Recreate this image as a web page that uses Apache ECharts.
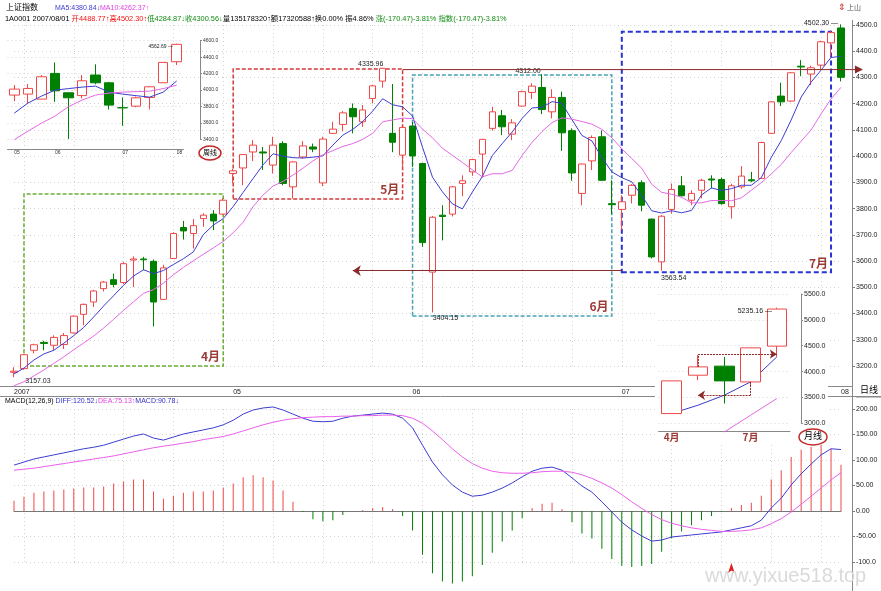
<!DOCTYPE html>
<html>
<head>
<meta charset="utf-8">
<script src="https://cdn.jsdelivr.net/npm/echarts/dist/echarts.min.js"></script>
<style>html,body{margin:0;padding:0;background:#fff}#chart{width:881px;height:591px}</style>
</head>
<body>
<div id="chart"></div>
<script>
// 日线 2007/03/30 - 2007/08/01
const dates = ['03/30', '04/02', '04/03', '04/04', '04/05', '04/06', '04/09', '04/10', '04/11', '04/12', '04/13', '04/16', '04/17', '04/18', '04/19', '04/20', '04/23', '04/24', '04/25', '04/26', '04/27', '04/30',
    '05/08', '05/09', '05/10', '05/11', '05/14', '05/15', '05/16', '05/17', '05/18', '05/21', '05/22', '05/23', '05/24', '05/25', '05/28', '05/29', '05/30', '05/31',
    '06/01', '06/04', '06/05', '06/06', '06/07', '06/08', '06/11', '06/12', '06/13', '06/14', '06/15', '06/18', '06/19', '06/20', '06/21', '06/22', '06/25', '06/26', '06/27', '06/28', '06/29',
    '07/02', '07/03', '07/04', '07/05', '07/06', '07/09', '07/10', '07/11', '07/12', '07/13', '07/16', '07/17', '07/18', '07/19', '07/20', '07/23', '07/24', '07/25', '07/26', '07/27', '07/30', '07/31',
    '08/01']
const dateTicks = { '03/30': '2007', '05/08': '05', '06/01': '06', '07/02': '07', '08/01': '08' }

const opens = [3176, 3190, 3260, 3290, 3279, 3282, 3326, 3397, 3444, 3495, 3529, 3518, 3604, 3608, 3599, 3454, 3610, 3728, 3705, 3762, 3779, 3779,
    3934, 3955, 4016, 4016, 3966, 4048, 3883, 3997, 4035, 3898, 4087, 4121, 4182, 4131, 4220, 4286, 4087, 4004,
    4115, 3972, 3558, 3775, 3779, 3896, 3940, 4008, 4106, 4154, 4084, 4191, 4243, 4262, 4169, 4224, 4097, 3858, 3982, 4074, 3819,
    3797, 3851, 3899, 3760, 3597, 3797, 3887, 3832, 3870, 3913, 3911, 3807, 3883, 3910, 3915, 4087, 4229, 4210, 4343, 4313, 4347, 4432,
    4488.77]
const closes = [3180, 3243, 3281, 3286, 3309, 3316, 3390, 3435, 3486, 3520, 3511, 3590, 3608, 3605, 3444, 3574, 3705, 3715, 3735, 3775, 3753, 3832,
    3944, 4006, 4042, 4012, 4042, 3896, 3978, 4039, 4027, 4065, 4103, 4165, 4150, 4176, 4268, 4334.92, 4053.09, 4109.65,
    4000.74, 3670.40, 3767.10, 3770, 3883, 3906, 3987, 4064, 4169, 4112, 4127, 4246, 4267, 4178, 4224, 4089, 3936, 3970, 4071, 3908, 3815,
    3826, 3889, 3813, 3615.87, 3771, 3873, 3849, 3858, 3908, 3909, 3819, 3887, 3924, 3906, 4052, 4207, 4207, 4318, 4340, 4337, 4436, 4471.03,
    4300.56]
const lows = [3157.03, 3186, 3248, 3260, 3260, 3265, 3324, 3355, 3425, 3484, 3500, 3512, 3501, 3565, 3351, 3452, 3608, 3682, 3648, 3731, 3718, 3776,
    3897, 3889, 3981, 3947, 3934, 3889, 3838, 3990, 4015, 3886, 4085, 4095, 4087, 4112, 4201, 4261, 4015, 3950,
    3959, 3654, 3404.15, 3679, 3770, 3847, 3925, 3919, 4097, 4080, 4061, 4188, 4218, 4160, 4144, 4020, 3906, 3813, 3947, 3906, 3779,
    3718, 3820, 3790, 3610, 3563.54, 3781, 3846, 3813, 3839, 3877, 3815, 3762, 3876, 3901, 3913, 4085, 4191, 4206, 4305, 4271, 4330, 4380,
    4284.87]
const highs = [3195, 3246, 3285, 3296, 3317, 3326, 3393, 3438, 3490, 3524, 3552, 3596, 3618, 3616, 3606, 3586, 3710, 3753, 3760, 3782, 3794, 3840,
    3952, 4008, 4061, 4035, 4074, 4057, 3980, 4057, 4048, 4074, 4131, 4172, 4201, 4195, 4272, 4335.96, 4275, 4115,
    4130, 3975, 3772, 3813, 3886, 3927, 3990, 4066, 4188, 4176, 4141, 4250, 4278, 4312.00, 4255, 4246, 4106, 3972, 4079, 4098, 3908,
    3851, 3893, 3908, 3762, 3775, 3896, 3924, 3870, 3914, 3927, 3918, 3895, 3962, 3940, 4055, 4210, 4280, 4320, 4366, 4345, 4440, 4480,
    4502.30]
const ma5 = [3170, 3192, 3223, 3246, 3260, 3287, 3316, 3347, 3387, 3429, 3468, 3508, 3543, 3567, 3552, 3564, 3587, 3609, 3635, 3701, 3737, 3762,
    3808, 3862, 3915, 3967, 4009, 4000, 3994, 3993, 3996, 4001, 4042, 4080, 4102, 4132, 4172, 4219, 4196, 4188,
    4153, 4034, 3920, 3864, 3818, 3799, 3863, 3922, 4002, 4048, 4092, 4144, 4184, 4186, 4208, 4201, 4139, 4079, 4058, 3995, 3940,
    3918, 3902, 3850, 3792, 3783, 3792, 3784, 3793, 3852, 3879, 3869, 3876, 3889, 3889, 3918, 3995, 4059, 4138, 4225, 4282, 4328, 4376,
    4380.84]
const ma10 = [3125, 3140, 3162, 3185, 3210, 3235, 3262, 3288, 3314, 3345, 3378, 3412, 3445, 3477, 3491, 3516, 3548, 3576, 3601, 3626, 3650, 3675,
    3708, 3748, 3808, 3852, 3886, 3904, 3928, 3954, 3982, 4005, 4021, 4037, 4048, 4064, 4087, 4131, 4138, 4145,
    4143, 4103, 4070, 4030, 4003, 3976, 3948, 3921, 3933, 3933, 3946, 4003, 4053, 4094, 4128, 4146, 4141, 4132, 4122, 4102, 4070,
    4028, 3991, 3954, 3893, 3862, 3855, 3843, 3822, 3822, 3831, 3831, 3830, 3841, 3870, 3899, 3932, 3968, 4014, 4057, 4100, 4161, 4218,
    4262.37]
const diff = [90, 96, 102, 106, 110, 114, 118, 122, 125, 129, 135, 141, 147, 151, 143, 139, 145, 151, 155, 159, 163, 169,
    178, 190, 198, 202, 204, 198, 190, 182, 176, 175, 176, 182, 186, 188, 190, 192, 190, 182,
    163, 129, 96, 71, 51, 37, 29, 31, 37, 45, 55, 67, 78, 84, 86, 80, 65, 49, 37, 18, -2,
    -22, -37, -49, -59, -57, -51, -49, -47, -45, -43, -41, -37, -33, -29, -18, 6, 25, 51, 73, 92, 110, 122,
    120.52]
const dea = [80, 82, 84, 87, 90, 93, 96, 99, 102, 105, 108, 112, 116, 120, 124, 127, 130, 133, 136, 140, 143, 146,
    151, 157, 163, 169, 174, 178, 181, 183, 184, 185, 185, 186, 186, 187, 187, 188, 188, 187,
    182, 172, 157, 140, 122, 106, 93, 84, 78, 75, 74, 74, 75, 77, 78, 78, 76, 71, 64, 55, 45,
    32, 18, 5, -7, -17, -24, -29, -33, -36, -38, -40, -40, -39, -37, -33, -25, -15, -2, 13, 29, 45, 61,
    75.13]
const macd = [20, 28, 36, 38, 40, 42, 44, 46, 46, 48, 54, 58, 62, 62, 38, 24, 30, 36, 38, 38, 40, 46,
    54, 66, 70, 66, 60, 40, 18, -2, -16, -20, -18, -8, 0, 2, 6, 8, 4, -10,
    -38, -86, -122, -138, -142, -138, -128, -106, -82, -60, -38, -14, 6, 14, 16, 4, -22, -44, -54, -74, -94,
    -108, -110, -108, -104, -80, -54, -40, -28, -18, -10, -2, 6, 12, 16, 30, 62, 80, 106, 120, 126, 130, 122,
    90.78]

// 周线 (open, close, low, high)
const weeks = ['w1', 'w2', 'w3', 'w4', 'w5', 'w6', 'w7', 'w8', 'w9', 'w10', 'w11', 'w12', 'w13']
const weekTicks = { w1: '05', w4: '06', w9: '07', w13: '08' }
const weekBars = [[3938, 4011, 3864, 4060], [3950, 4019, 3836, 4072], [3889, 4161, 3889, 4182], [4202, 3990, 3856, 4335.96],
    [3966, 3905, 3404.15, 3970], [3932, 4112, 3897, 4182], [4182, 4088, 4070, 4312], [4088, 3816, 3763, 4100],
    [3785, 3783, 3563.54, 3909], [3803, 3905, 3790, 3920], [3909, 4039, 3763, 4045], [4088, 4336, 4085, 4340], [4344, 4556, 4304, 4562.69]]
const weekMa5 = [3718, 3840, 3925, 3998, 4017, 4035, 4047, 3974, 3950, 3931, 3913, 3974, 4110]
const weekMa10 = [3395, 3498, 3596, 3681, 3797, 3877, 3938, 3962, 3974, 3980, 3986, 4017, 4059]

// 月线 (open, close, low, high)
const months = ['04', '05', '06', '07', '08']
const monthTicks = { '04': '4月', '07': '7月' }
const monthBars = [[3188, 3820, 3188, 3820], [3930, 4091, 3833, 4318], [4105, 3820, 3382, 4285], [3800, 4459, 3736, 4459], [4492, 5209, 4285, 5235.16]]
const monthMa5 = [3190, 3349, 3543, 3800, 4285]
const monthMa10 = ['-', '-', 2832, 3155, 3479]

const upColor = '#f04848'
const downColor = '#008000'
const ma5Color = '#3c3cd0'
const ma10Color = '#e468e4'
const boxLabel = '#9c3a34'
const dotted = { color: '#d2d2d2', type: [1, 3], width: 1 }
const font = "'Liberation Sans', 'Noto Sans CJK SC', sans-serif"

const candleStyle = { color: '#ffffff', color0: downColor, borderColor: upColor, borderColor0: downColor, borderWidth: 1 }

function lineSeries(name, data, color, x, z) {
    return {
        name, type: 'line', data, xAxisIndex: x, yAxisIndex: x, symbol: 'none', clip: false, z: z || 3,
        lineStyle: { color, width: 1 }, itemStyle: { color }, animation: false,
    }
}

// 价格标注：坐标须落在轴范围内，超出部分用像素偏移补上
function priceTag(name, coord, offset, size) {
    return { name, coord, label: { offset, fontSize: size || 7 } }
}

// 月份框
const boxes = [
    { name: '4月', from: 1, to: 21, low: 3192, high: 3856, color: '#6aae36', dash: [4, 2], width: 1.5 },
    { name: '5月', from: 22, to: 39, low: 3837, high: 4332, color: '#d23a3a', dash: [4, 2], width: 1.5 },
    { name: '6月', from: 40, to: 60, low: 3391, high: 4309, color: '#4aa2b4', dash: [4, 2], width: 1.5 },
    { name: '7月', from: 61, to: 82, low: 3557, high: 4474, color: '#2a34d0', dash: [5, 3], width: 2 },
]

const macdBars = macd.map((v) => ({ value: v, itemStyle: { color: v >= 0 ? upColor : downColor } }))

function buildOption(extraGraphics) {
    const axisText = { fontSize: 7, color: '#222', fontFamily: font }
    const xSplit = { show: true, interval: (i) => i % 5 === 1, lineStyle: dotted }
    return {
        animation: false,
        textStyle: { fontFamily: font },
        grid: [
            { left: 14, right: 40, top: 25, bottom: 225 },
            { left: 14, right: 40, top: 409, bottom: 29 },
            { left: 7.5, right: 697.5, top: 40.7, bottom: 451.7 },
            { left: 658.5, right: 91, top: 294, bottom: 167.7, z: 25 },
        ],
        xAxis: [
            {
                type: 'category', gridIndex: 0, data: dates, boundaryGap: false, offset: 20.5,
                axisLine: { lineStyle: { color: '#777' } }, axisTick: { show: false },
                axisLabel: { ...axisText, interval: 0, align: 'left', margin: 2, formatter: (v) => dateTicks[v] || '' },
                splitLine: xSplit,
            },
            {
                type: 'category', gridIndex: 1, data: dates, boundaryGap: false, position: 'top', offset: 13,
                axisLine: { lineStyle: { color: '#777' } }, axisTick: { show: false }, axisLabel: { show: false },
                splitLine: xSplit,
            },
            {
                type: 'category', gridIndex: 2, data: weeks, boundaryGap: true, offset: 10,
                axisLine: { lineStyle: { color: '#888' } }, axisTick: { show: false },
                axisLabel: { fontSize: 5, color: '#333', interval: 0, align: 'left', margin: 1, formatter: (v) => weekTicks[v] || '' },
                splitLine: { show: false },
            },
            {
                type: 'category', gridIndex: 3, data: months, boundaryGap: true, offset: 8.4, z: 25,
                axisLine: { lineStyle: { color: '#888' } }, axisTick: { show: false },
                axisLabel: { fontSize: 10, fontWeight: 'bold', color: boxLabel, interval: 0, margin: 1, fontFamily: 'Noto Sans CJK SC', formatter: (v) => monthTicks[v] || '' },
                splitLine: { show: false },
            },
        ],
        yAxis: [
            {
                type: 'value', gridIndex: 0, position: 'right', offset: 11, min: 3200, max: 4500, interval: 100,
                axisLine: { show: true, lineStyle: { color: '#777' } }, axisTick: { show: true, length: 3 },
                axisLabel: { ...axisText, margin: 4, formatter: (v) => v.toFixed(1) }, splitLine: { lineStyle: dotted },
            },
            {
                type: 'value', gridIndex: 1, position: 'right', offset: 11, min: -100, max: 200, interval: 50,
                axisLine: { show: true, lineStyle: { color: '#777' } }, axisTick: { show: true, length: 3 },
                axisLabel: { ...axisText, margin: 4, formatter: (v) => v.toFixed(2).slice(0, 6) }, splitLine: { lineStyle: dotted },
            },
            {
                type: 'value', gridIndex: 2, position: 'right', offset: 16.5, min: 3400, max: 4600, interval: 200,
                axisLine: { show: true, lineStyle: { color: '#888' } }, axisTick: { show: true, length: 2 },
                axisLabel: { fontSize: 5, color: '#333', margin: 3, formatter: (v) => v.toFixed(1) }, splitLine: { lineStyle: dotted },
            },
            {
                type: 'value', gridIndex: 3, position: 'right', offset: 11, min: 3000, max: 5500, interval: 500, z: 25,
                axisLine: { show: true, lineStyle: { color: '#888' } }, axisTick: { show: true, length: 2 },
                axisLabel: { ...axisText, margin: 3, formatter: (v) => v.toFixed(1) }, splitLine: { lineStyle: dotted },
            },
        ],
        series: [
            {
                name: '日线', type: 'candlestick', xAxisIndex: 0, yAxisIndex: 0, barWidth: 7, clip: false,
                data: dates.map((d, i) => [opens[i], closes[i], lows[i], highs[i]]),
                itemStyle: candleStyle,
                markArea: {
                    silent: true,
                    data: boxes.map((b) => [
                        {
                            name: b.name, coord: [dates[b.from], b.low],
                            itemStyle: { color: 'rgba(0,0,0,0)', borderColor: b.color, borderWidth: b.width, borderType: b.dash },
                            label: { show: true, position: 'insideBottomRight', distance: 4, color: boxLabel, fontSize: 12, fontWeight: 'bold', fontFamily: 'Noto Sans CJK SC', formatter: '{b}' },
                        },
                        { coord: [dates[b.to], b.high] },
                    ]),
                },
                markLine: {
                    silent: true, symbol: ['none', 'arrow'], symbolSize: 8, label: { show: false },
                    lineStyle: { color: '#8b2a2a', width: 1, type: 'solid' },
                    data: [[{ coord: [dates[61], 3563.54] }, { coord: [dates[34], 3563.54] }]],
                },
                markPoint: {
                    silent: true, symbol: 'circle', symbolSize: 1, itemStyle: { color: 'rgba(0,0,0,0)' },
                    label: { show: true, color: '#222', formatter: '{b}' },
                    data: [
                        priceTag('4335.96', [dates[37], 4335.96], [-12, -4]),
                        priceTag('3404.15', [dates[42], 3404.15], [13, 6]),
                        priceTag('4312.00', [dates[53], 4312.00], [-14, -3]),
                        priceTag('3563.54', [dates[65], 3563.54], [12, 7]),
                        priceTag('4502.30 —', [dates[83], 4500], [-20, -2]),
                        priceTag('3157.03', [dates[0], 3200], [24, 15]),
                    ],
                },
            },
            lineSeries('MA5', ma5, ma5Color, 0),
            lineSeries('MA10', ma10, ma10Color, 0),
            {
                name: 'MACD', type: 'bar', xAxisIndex: 1, yAxisIndex: 1, data: macdBars, barWidth: 1, clip: false,
                markPoint: {
                    silent: true, symbol: 'arrow', symbolSize: [5, 10], symbolOffset: [0, 1], itemStyle: { color: '#e02020' }, label: { show: false },
                    data: [{ coord: [dates[72], -100] }],
                },
            },
            lineSeries('DIFF', diff, '#3c3cd0', 1),
            lineSeries('DEA', dea, '#ea5fea', 1),
            {
                name: '周线', type: 'candlestick', xAxisIndex: 2, yAxisIndex: 2, barWidth: 10, clip: false,
                data: weekBars, itemStyle: candleStyle,
                markPoint: {
                    silent: true, symbol: 'circle', symbolSize: 1, itemStyle: { color: 'rgba(0,0,0,0)' },
                    label: { show: true, color: '#222', formatter: '{b}' },
                    data: [priceTag('4562.69 —', ['w13', 4562.69], [-16, 3], 5)],
                },
            },
            lineSeries('周MA5', weekMa5, ma5Color, 2),
            lineSeries('周MA10', weekMa10, ma10Color, 2),
            {
                name: '月线', type: 'candlestick', xAxisIndex: 3, yAxisIndex: 3, barWidth: 20, clip: false, z: 30,
                data: monthBars, itemStyle: candleStyle,
                markLine: {
                    silent: true, z: 31, symbol: ['none', 'none'], symbolSize: 7, label: { show: false },
                    lineStyle: { color: '#8b2a2a', width: 1, type: [2, 1] },
                    data: [
                        [{ coord: ['07', 3800] }, { coord: ['07', 3543] }],
                        [{ coord: ['07', 3543] }, { coord: ['05', 3543], symbol: 'arrow' }],
                        [{ coord: ['05', 4091] }, { coord: ['05', 4337] }],
                        [{ coord: ['05', 4337] }, { coord: ['08', 4337], symbol: 'arrow' }],
                    ],
                },
                markPoint: {
                    silent: true, z: 31, symbol: 'circle', symbolSize: 1, itemStyle: { color: 'rgba(0,0,0,0)' },
                    label: { show: true, color: '#222', formatter: '{b}' },
                    data: [priceTag('5235.16 —', ['08', 5235.16], [-22, 3])],
                },
            },
            lineSeries('月MA5', monthMa5, ma5Color, 3, 30),
            lineSeries('月MA10', monthMa10, ma10Color, 3, 30),
        ],
        graphic: baseGraphics().concat(extraGraphics || []),
    }
}

function baseGraphics() {
    const t = (id, x, y, text, fill, size, extra) => ({
        id, type: 'text', x, y, z: 50,
        style: { text, fill, fontSize: size, fontFamily: font, verticalAlign: 'middle', ...(extra || {}) },
    })
    const line = (id, x1, y1, x2, y2) => ({
        id, type: 'line', z: 1, shape: { x1, y1, x2, y2 }, style: { stroke: '#888', lineWidth: 1 },
    })
    return [
        line('sepA', 0, 386.5, 852, 386.5),
        line('sepB', 0, 396.5, 881, 396.5),
        line('axisV', 852.5, 20, 852.5, 591),
        // 月线小图底色
        { id: 'monthBg', type: 'rect', z: 20, shape: { x: 655, y: 291, width: 173, height: 152 }, style: { fill: '#fff' } },
        t('h1', 6, 8, '上证指数', '#000', 8),
        t('h2', 55, 8, 'MA5:4380.84↓', '#3c3cd0', 7),
        t('h3', 100, 8, 'MA10:4262.37↑', '#e040e0', 7),
        {
            id: 'h4', type: 'text', x: 5, y: 19, z: 50,
            style: {
                text: '{k|1A0001 2007/08/01 }{r|开4488.77↑高4502.30↑}{g|低4284.87↓收4300.56↓}{k|量135178320↑额17320588↑换0.00% 振4.86% }{g|涨(-170.47)-3.81% 指数(-170.47)-3.81%}',
                verticalAlign: 'middle', fontSize: 7.4, fontFamily: font,
                rich: {
                    k: { fill: '#000', fontSize: 7.4, fontFamily: font },
                    r: { fill: '#ee1111', fontSize: 7.4, fontFamily: font },
                    g: { fill: '#108a10', fontSize: 7.4, fontFamily: font },
                },
            },
        },
        {
            id: 'h5', type: 'text', x: 5, y: 401, z: 50,
            style: {
                text: '{k|MACD(12,26,9) }{b|DIFF:120.52↓}{m|DEA:75.13↑}{b|MACD:90.78↓}',
                verticalAlign: 'middle', fontSize: 7, fontFamily: font,
                rich: {
                    k: { fill: '#000', fontSize: 7, fontFamily: font },
                    b: { fill: '#3030c8', fontSize: 7, fontFamily: font },
                    m: { fill: '#e040e0', fontSize: 7, fontFamily: font },
                },
            },
        },
        t('icon', 838, 8, '⇕', '#d02020', 9),
        t('icon2', 847, 8, '上山', '#555', 7),
        t('day', 860, 391, '日线', '#000', 9),
        line('dayLine', 856, 397, 881, 397),
        // 周线 / 月线 标记
        { id: 'wkEll', type: 'ellipse', z: 50, shape: { cx: 210, cy: 153, rx: 11, ry: 7 }, style: { fill: 'rgba(0,0,0,0)', stroke: '#c02828', lineWidth: 1.5 } },
        t('wk', 210, 153, '周线', '#000', 7, { align: 'center' }),
        { id: 'moEll', type: 'ellipse', z: 50, shape: { cx: 813, cy: 437, rx: 14, ry: 8 }, style: { fill: 'rgba(0,0,0,0)', stroke: '#c02828', lineWidth: 1.5 } },
        t('mo', 813, 437, '月线', '#000', 9, { align: 'center' }),
        t('wm', 705, 576, 'www.yixue518.top', '#dadada', 20, { fontFamily: "'Liberation Sans', sans-serif" }),
    ]
}

const chart = echarts.init(document.getElementById('chart'))
chart.setOption(buildOption())

// 5月高点延伸到右侧的箭头线，位置由坐标轴换算
const start = chart.convertToPixel({ gridIndex: 0 }, [dates[39], 4330])
const last = chart.convertToPixel({ gridIndex: 0 }, [dates[83], 4330])
const prev = chart.convertToPixel({ gridIndex: 0 }, [dates[82], 4330])
const xe = last[0] + 2.1 * (last[0] - prev[0])
const arrowColor = '#8b2a2a'
chart.setOption(buildOption([
    { id: 'hiLine', type: 'line', z: 6, shape: { x1: start[0], y1: start[1], x2: xe, y2: start[1] }, style: { stroke: arrowColor, lineWidth: 1 } },
    { id: 'hiHead', type: 'polygon', z: 6, shape: { points: [[xe + 1, start[1]], [xe - 7, start[1] - 4], [xe - 7, start[1] + 4]] }, style: { fill: arrowColor } },
]), true)

window.addEventListener('resize', () => {
    chart.resize()
})
</script>
</body>
</html>
